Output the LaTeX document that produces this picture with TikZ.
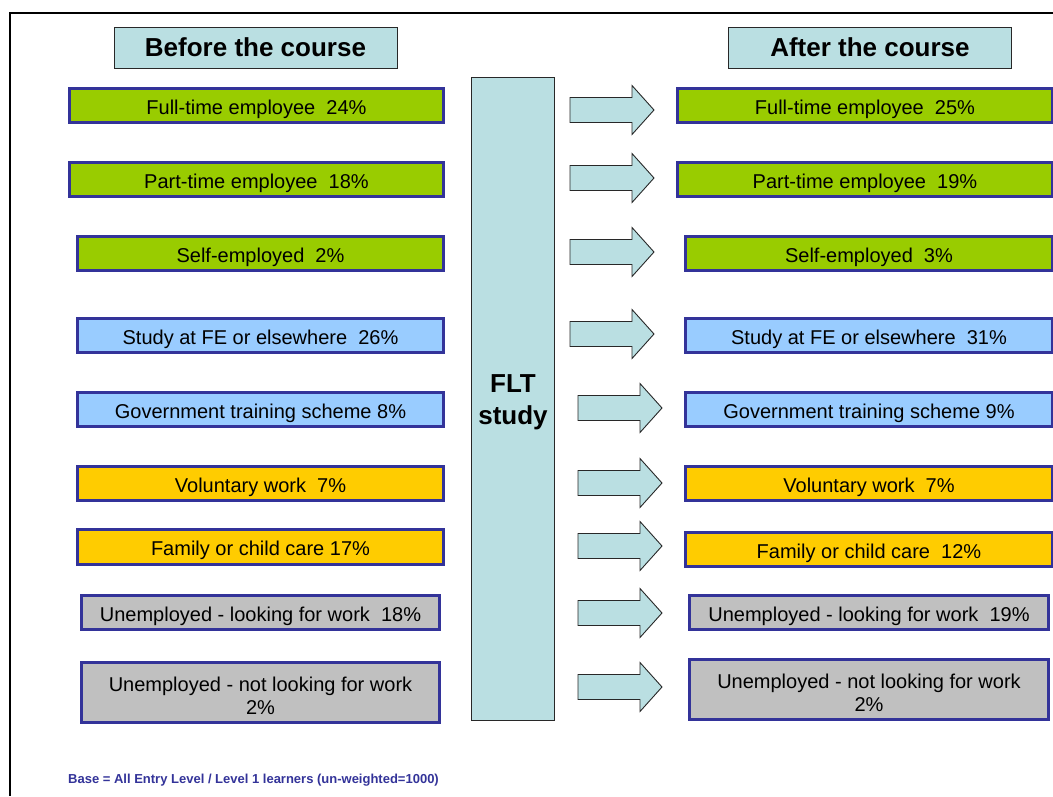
\documentclass[tikz,border=0pt]{standalone}
\usepackage{fontspec}
\setmainfont{Liberation Sans}
\definecolor{rowgreen}{HTML}{99CC00}
\definecolor{rowblue}{HTML}{99CCFF}
\definecolor{rowgold}{HTML}{FFCC00}
\definecolor{rowgray}{HTML}{C0C0C0}
\definecolor{rowedge}{HTML}{333399}
\definecolor{paleteal}{RGB}{186,223,226}
\definecolor{darkedge}{RGB}{40,40,40}

% outcome box given by its outer edges: name, x1, x2, y1, y2, style, text
\newcommand\outcome[7]{%
  \node[rowbox,#6,minimum width={(#3-#2-3)*1pt},minimum height={(#5-#4-3)*1pt}]
    (#1) at ({(#2+#3)/2},{(#4+#5)/2}) {#7};}
% block arrow with its tail at (x,y)
\newcommand\blockarrow[2]{%
  \draw[blockarrowstyle] (#1,#2-12.5) -- ++(62,0) -- ++(0,-12) -- ++(22,24.5)
    -- ++(-22,24.5) -- ++(0,-12) -- ++(-62,0) -- cycle;}

\begin{document}
\begin{tikzpicture}[x=1pt,y=-1pt,
  rowbox/.style={draw=rowedge,line width=3pt,inner sep=0pt,align=center,
    font=\fontsize{20}{23}\selectfont,text height=17.2pt,text depth=0pt},
  twoline/.style={text height=44pt},
  green/.style={fill=rowgreen},
  blue/.style={fill=rowblue},
  gold/.style={fill=rowgold},
  grey/.style={fill=rowgray},
  header/.style={draw=darkedge,line width=0.9pt,fill=paleteal,inner sep=0pt,
    font=\fontsize{26}{30}\selectfont\bfseries},
  blockarrowstyle/.style={draw=darkedge,line width=0.9pt,fill=paleteal,line join=miter}]
\useasboundingbox (0,0) rectangle (1053,796);

% frame
\draw[line width=2pt] (1053,13) -- (10,13) -- (10,796);

% column headers
\node[header,minimum width=283,minimum height=41] (before) at (255.5,47.5) {Before the course};
\node[header,minimum width=283,minimum height=41] (after) at (870,47.5) {After the course};

% central bar
\node[draw=darkedge,line width=0.9pt,fill=paleteal,minimum width=83,minimum height=643,
  inner sep=0pt,align=center,font=\fontsize{26}{32}\selectfont\bfseries,
  text height=51pt,text depth=0pt]
  (flt) at (513,399) {FLT\\study};

% before the course
\outcome{b1}{68}{445}{87}{124}{green}{Full-time employee~ 24\%}
\outcome{b2}{68}{445}{161}{198}{green}{Part-time employee~ 18\%}
\outcome{b3}{76}{445}{235}{272}{green}{Self-employed~ 2\%}
\outcome{b4}{76}{445}{317}{354}{blue}{Study at FE or elsewhere~ 26\%}
\outcome{b5}{76}{445}{391}{428}{blue}{Government training scheme 8\%}
\outcome{b6}{76}{445}{465}{502}{gold}{Voluntary work~ 7\%}
\outcome{b7}{76}{445}{528}{566}{gold}{Family or child care 17\%}
\outcome{b8}{80}{441}{594}{631}{grey}{Unemployed - looking for work~ 18\%}
\outcome{b9}{80}{441}{661}{724}{grey,twoline}{Unemployed - not looking for work\\2\%}

% after the course
\outcome{a1}{676}{1054}{87}{124}{green}{Full-time employee~ 25\%}
\outcome{a2}{676}{1054}{161}{198}{green}{Part-time employee~ 19\%}
\outcome{a3}{684}{1054}{235}{272}{green}{Self-employed~ 3\%}
\outcome{a4}{684}{1054}{317}{354}{blue}{Study at FE or elsewhere~ 31\%}
\outcome{a5}{684}{1054}{391}{428}{blue}{Government training scheme 9\%}
\outcome{a6}{684}{1054}{465}{502}{gold}{Voluntary work~ 7\%}
\outcome{a7}{684}{1054}{531}{568}{gold}{Family or child care~ 12\%}
\outcome{a8}{688}{1050}{594}{631}{grey}{Unemployed - looking for work~ 19\%}
\outcome{a9}{688}{1050}{658}{721}{grey,twoline}{Unemployed - not looking for work\\2\%}

% block arrows
\blockarrow{570}{110}
\blockarrow{570}{178}
\blockarrow{570}{252}
\blockarrow{570}{334}
\blockarrow{578}{408}
\blockarrow{578}{483}
\blockarrow{578}{546}
\blockarrow{578}{613}
\blockarrow{578}{687}

% footnote
\node[anchor=base west,inner sep=0pt,text=rowedge,font=\fontsize{13}{15}\selectfont\bfseries]
  (base) at (68,783) {Base = All Entry Level / Level 1 learners (un-weighted=1000)};
\end{tikzpicture}
\end{document}
